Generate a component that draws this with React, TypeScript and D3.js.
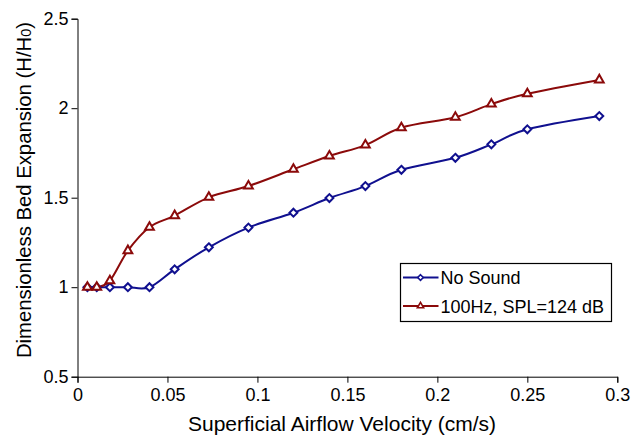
import React, { useEffect, useRef } from "react";
import * as d3 from "d3";

const velocity = [0.0055, 0.0107, 0.018, 0.028, 0.04, 0.054, 0.073, 0.095, 0.12, 0.14, 0.16, 0.18, 0.21, 0.23, 0.25, 0.29];
const noSound = [1, 1, 1, 1, 1, 1.1, 1.223, 1.333, 1.416, 1.498, 1.565, 1.656, 1.723, 1.798, 1.882, 1.956];
const withSound = [1, 1, 1.036, 1.204, 1.335, 1.4, 1.502, 1.565, 1.659, 1.733, 1.794, 1.891, 1.949, 2.023, 2.081, 2.158];
const xTicks = [0, 0.05, 0.1, 0.15, 0.2, 0.25, 0.3];
const yTicks = [0.5, 1, 1.5, 2, 2.5];
const seriesNames = ["No Sound", "100Hz, SPL=124 dB"];

const BLUE = "#10108f";
const RED = "#8b0a0a";
const FONT = "'Liberation Sans', Arial, sans-serif";

const App = () => {
    const svgRef = useRef<SVGSVGElement>(null);

    useEffect(() => {
        const width = 634;
        const height = 440;
        const margin = { top: 18.7, right: 16.7, bottom: 63.3, left: 77.5 };

        const svg = d3.select(svgRef.current)
            .attr("width", width)
            .attr("height", height)
            .style("background", "#fff");

        svg.selectAll("*").remove();

        const x = d3.scaleLinear()
            .domain([0, 0.3])
            .range([margin.left, width - margin.right]);

        const y = d3.scaleLinear()
            .domain([0.5, 2.5])
            .range([height - margin.bottom, margin.top]);

        const xAxis = svg.append("g")
            .attr("transform", `translate(0, ${y(0.5)})`)
            .call(d3.axisBottom(x).tickValues(xTicks).tickSize(6).tickPadding(6).tickFormat(d => String(d)));

        const yAxis = svg.append("g")
            .attr("transform", `translate(${x(0)}, 0)`)
            .call(d3.axisLeft(y).tickValues(yTicks).tickSize(6).tickPadding(3).tickFormat(d => String(d)));

        [xAxis, yAxis].forEach(g => {
            g.selectAll("text")
                .attr("font-family", FONT)
                .attr("font-size", 18)
                .attr("fill", "#000");
            g.selectAll("line").attr("stroke", "#000");
            g.select(".domain").attr("stroke", "#000");
        });
        xAxis.selectAll("text").attr("dy", "0.71em");

        svg.append("text")
            .attr("x", 342)
            .attr("y", 431)
            .attr("text-anchor", "middle")
            .attr("font-family", FONT)
            .attr("font-size", 21)
            .text("Superficial Airflow Velocity (cm/s)");

        const yTitle = svg.append("text")
            .attr("transform", "translate(31, 190) rotate(-90)")
            .attr("text-anchor", "middle")
            .attr("font-family", FONT)
            .attr("font-size", 20.3);
        yTitle.append("tspan").text("Dimensionless Bed Expansion (H/H");
        yTitle.append("tspan").attr("font-size", 14.5).text("0");
        yTitle.append("tspan").text(")");

        const line = d3.line<number>()
            .x((d, i) => x(velocity[i]))
            .y(d => y(d))
            .curve(d3.curveCatmullRom.alpha(0));

        const diamond = d3.symbol().type(d3.symbolDiamond2).size(40);
        const triangle = d3.symbol().type(d3.symbolTriangle2).size(55);

        const series = [
            { values: noSound, color: BLUE, shape: diamond },
            { values: withSound, color: RED, shape: triangle }
        ];

        series.forEach(s => {
            svg.append("path")
                .datum(s.values)
                .attr("fill", "none")
                .attr("stroke", s.color)
                .attr("stroke-width", 2)
                .attr("d", line);
        });

        series.forEach(s => {
            svg.selectAll(null)
                .data(s.values)
                .enter()
                .append("path")
                .attr("transform", (d, i) => `translate(${x(velocity[i])}, ${y(d)})`)
                .attr("d", s.shape())
                .attr("fill", "#fff")
                .attr("stroke", s.color)
                .attr("stroke-width", 2);
        });

        // legend
        const legend = svg.append("g").attr("transform", "translate(400.5, 263.5)");
        legend.append("rect")
            .attr("width", 211)
            .attr("height", 58)
            .attr("fill", "#fff")
            .attr("stroke", "#000")
            .attr("stroke-width", 1.2);

        const legendSymbols = [
            d3.symbol().type(d3.symbolDiamond2).size(20),
            d3.symbol().type(d3.symbolTriangle2).size(28)
        ];

        seriesNames.forEach((name, i) => {
            const cy = 14 + i * 28.5;
            legend.append("line")
                .attr("x1", 2.5)
                .attr("x2", 38)
                .attr("y1", cy)
                .attr("y2", cy)
                .attr("stroke", series[i].color)
                .attr("stroke-width", 2);
            legend.append("path")
                .attr("transform", `translate(20, ${cy})`)
                .attr("d", legendSymbols[i]())
                .attr("fill", "#fff")
                .attr("stroke", series[i].color)
                .attr("stroke-width", 1.6);
            legend.append("text")
                .attr("x", 40)
                .attr("y", cy + 6.5)
                .attr("font-family", FONT)
                .attr("font-size", 18)
                .text(name);
        });
    }, []);

    return <svg ref={svgRef} style={{ position: "absolute", left: 0, top: 0 }}></svg>;
};

export default App;
